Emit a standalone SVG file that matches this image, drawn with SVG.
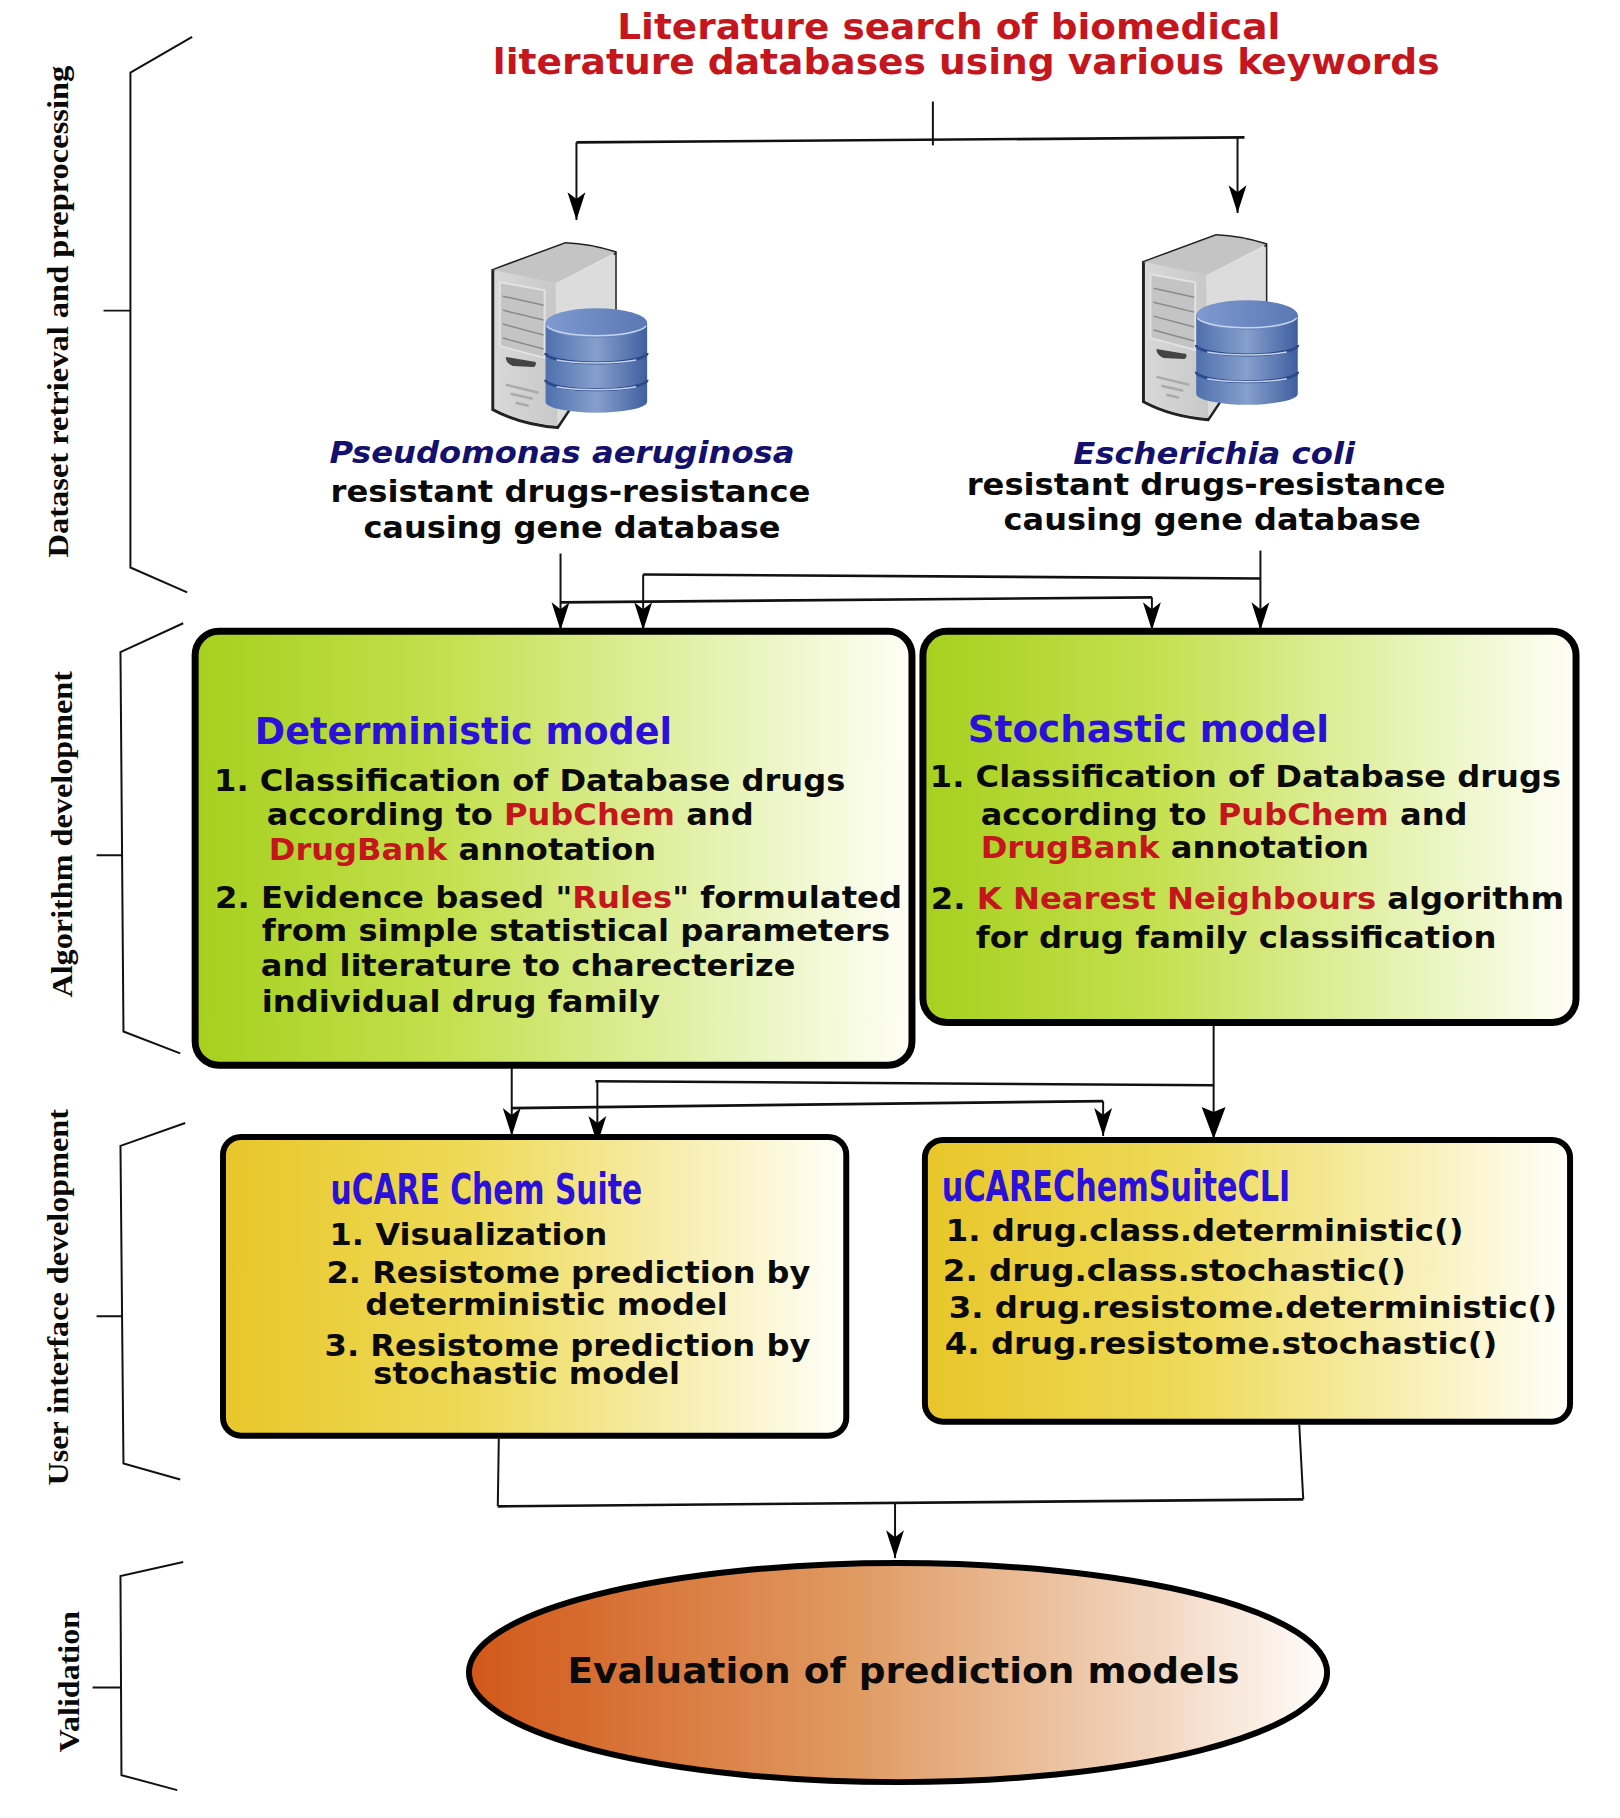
<svg xmlns="http://www.w3.org/2000/svg" width="1620" height="1818" viewBox="0 0 1620 1818">
<style>
text{font-family:"DejaVu Sans","Liberation Sans",sans-serif;font-weight:700;font-size:31px;fill:#0a0a0a}
.side{font-family:"Liberation Serif",serif;font-size:29px}
.red{fill:#c4161c}
.navy{fill:#14106e;font-style:italic;font-size:31px}
.blue{fill:#2a10d8;font-size:38px}
.ui{fill:#2a10d8;font-size:43px}
.brace{fill:none;stroke:#111;stroke-width:2}
.con{fill:none;stroke:#111;stroke-width:2}
.hz{fill:none;stroke:#111;stroke-width:2.6}
.arr{marker-end:url(#a)}
.big{marker-end:url(#b)}
.box{stroke:#000;stroke-width:7}
.box2{stroke:#000;stroke-width:6}
</style>
<defs>
<marker id="a" markerUnits="userSpaceOnUse" markerWidth="30" markerHeight="20" refX="28" refY="10" orient="auto"><path d="M28 10L0 1L7 10L0 19Z" fill="#000"/></marker>
<marker id="b" markerUnits="userSpaceOnUse" markerWidth="34" markerHeight="28" refX="32" refY="14" orient="auto"><path d="M32 14L0 2L5 14L0 26Z" fill="#000"/></marker>
<linearGradient id="g"><stop offset="0" stop-color="#a6d01e"/><stop offset=".35" stop-color="#c4e04e"/><stop offset=".75" stop-color="#e8f3b8"/><stop offset="1" stop-color="#fefef6"/></linearGradient>
<linearGradient id="y"><stop offset="0" stop-color="#e8c62a"/><stop offset=".4" stop-color="#eeda58"/><stop offset=".75" stop-color="#f8efb4"/><stop offset="1" stop-color="#fffffa"/></linearGradient>
<linearGradient id="o"><stop offset="0" stop-color="#d2581a"/><stop offset=".45" stop-color="#e09a62"/><stop offset=".8" stop-color="#f2d6c0"/><stop offset="1" stop-color="#fffdfb"/></linearGradient>
<linearGradient id="cyl"><stop offset="0" stop-color="#4f70ae"/><stop offset=".5" stop-color="#86a0cc"/><stop offset="1" stop-color="#3f5f9f"/></linearGradient>
<linearGradient id="cyt"><stop offset="0" stop-color="#7f9ad0"/><stop offset="1" stop-color="#5a78b4"/></linearGradient>
<linearGradient id="fr" x1="0" x2="1"><stop offset="0" stop-color="#d8d8d8"/><stop offset="1" stop-color="#c8c8c8"/></linearGradient>
<g id="srv">
<path d="M492 270L565 243Q590 244 615 252L615 340L557 428Q520 425 492 410Z" fill="#e0e0e0" stroke="#222" stroke-width="3"/>
<path d="M492 270L565 243Q590 244 615 252L555 283Z" fill="#c4c4c4"/>
<path d="M555 283L615 254L615 340L557 426Z" fill="#dcdcdc"/>
<path d="M494 270L555 283L557 426Q520 423 494 409Z" fill="url(#fr)"/>
<path d="M499 282L544 290L544 358L499 346Z" fill="#c4c4c4" stroke="#e2e2e2" stroke-width="2"/>
<path d="M502 296L543 305M502 310L543 320M502 324L543 335M502 338L543 349" stroke="#8a8a8a" stroke-width="1.5" fill="none"/>
<path d="M505 357L535 362Q536 366 533 367L512 366Q505 363 505 357Z" fill="#444"/>
<path d="M505 385L538 393M510 394L532 399M515 403L528 406" stroke="#aaa" stroke-width="2.5" fill="none"/>
<path d="M545 323L545 402A51 11 0 0 0 647 402L647 323Z" fill="url(#cyl)"/>
<ellipse cx="596" cy="323" rx="51" ry="15" fill="url(#cyt)"/>
<path d="M546 326A51 12 0 0 0 646 326" fill="none" stroke="#c8d4ec" stroke-width="1.5"/>
<path d="M545 353A51 10 0 0 0 647 353M545 380A51 10 0 0 0 647 380" fill="none" stroke="#2c4a8c" stroke-width="3"/>
<path d="M556 360A51 8 0 0 0 636 360M556 387A51 8 0 0 0 636 387" fill="none" stroke="#c8d4ec" stroke-width="1.5"/>
</g>
</defs>
<rect width="1620" height="1818" fill="#fff"/>
<g transform="scale(.9956)">
<g id="connectors">
<path class="con" d="M937 102V146"/>
<path class="hz" d="M579 143L1250 138"/>
<path class="con arr" d="M579 143V221"/>
<path class="con arr" d="M1243 138V214"/>
<path class="con arr" d="M563 556V633"/>
<path class="con arr" d="M1266 553V633"/>
<path class="hz" d="M646 577L1266 581"/>
<path class="con arr" d="M646 577V633"/>
<path class="hz" d="M563 605L1157 600"/>
<path class="con arr" d="M1157 600V633"/>
<path class="con arr" d="M514 1070V1141"/>
<path class="hz" d="M514 1113L1108 1106"/>
<path class="con arr" d="M1108 1106V1141"/>
<path class="hz" d="M598 1086L1219 1090"/>
<path class="con arr" d="M600 1086V1149"/>
<path class="con big" d="M1219 1030V1144"/>
<path class="con" d="M501 1445L500 1513"/>
<path class="hz" d="M500 1513L1309 1506"/>
<path class="con" d="M1309 1506L1305 1431"/>
<path class="con arr" d="M899 1509V1565"/>
</g>

<g id="braces">
<path class="brace" d="M193 37L131 73V570L188 595M104 312H131"/>
<path class="brace" d="M184 626L121 655L124 1036L181 1058M97 859H123"/>
<path class="brace" d="M186 1128L121 1151L124 1470L181 1486M97 1322H123"/>
<path class="brace" d="M184 1569L121 1583L122 1783L178 1798M93 1695H122"/>
</g>

<g id="stage-labels">
<text class="side" transform="translate(68 560) rotate(-90)" textLength="494" lengthAdjust="spacingAndGlyphs">Dataset retrieval and preprocessing</text>
<text class="side" transform="translate(72 1002) rotate(-90)" textLength="328" lengthAdjust="spacingAndGlyphs">Algorithm development</text>
<text class="side" transform="translate(68 1492) rotate(-90)" textLength="378" lengthAdjust="spacingAndGlyphs">User interface development</text>
<text class="side" transform="translate(79 1760) rotate(-90)" textLength="142" lengthAdjust="spacingAndGlyphs">Validation</text>
</g>

<g id="search">
<text class="red" x="620" y="39" style="font-size:36px" textLength="666" lengthAdjust="spacingAndGlyphs">Literature search of biomedical</text>
<text class="red" x="495" y="74" style="font-size:36px" textLength="951" lengthAdjust="spacingAndGlyphs">literature databases using various keywords</text>
</g>

<g id="db-pseudomonas">
<use href="#srv" x="3" y="1.5"/>
<text class="navy" x="331" y="465" textLength="467" lengthAdjust="spacingAndGlyphs">Pseudomonas aeruginosa</text>
<text x="332" y="504" textLength="482" lengthAdjust="spacingAndGlyphs">resistant drugs-resistance</text>
<text x="365" y="540" textLength="419" lengthAdjust="spacingAndGlyphs">causing gene database</text>
</g>

<g id="db-ecoli">
<use href="#srv" x="656.5" y="-6.5"/>
<text class="navy" x="1078" y="466" textLength="283" lengthAdjust="spacingAndGlyphs">Escherichia coli</text>
<text x="971" y="497" textLength="481" lengthAdjust="spacingAndGlyphs">resistant drugs-resistance</text>
<text x="1008" y="532" textLength="419" lengthAdjust="spacingAndGlyphs">causing gene database</text>
</g>

<g id="deterministic">
<rect class="box" x="196" y="634" width="720" height="436" rx="24" fill="url(#g)"/>
<text class="blue" x="256" y="747" textLength="419" lengthAdjust="spacingAndGlyphs">Deterministic model</text>
<text x="215" y="794" textLength="634" lengthAdjust="spacingAndGlyphs">1. Classification of Database drugs</text>
<text x="268" y="829" textLength="489" lengthAdjust="spacingAndGlyphs">according to <tspan class="red">PubChem</tspan> and</text>
<text x="270" y="864" textLength="389" lengthAdjust="spacingAndGlyphs"><tspan class="red">DrugBank</tspan> annotation</text>
<text x="216" y="912" textLength="690" lengthAdjust="spacingAndGlyphs">2. Evidence based "<tspan class="red">Rules</tspan>" formulated</text>
<text x="263" y="945" textLength="631" lengthAdjust="spacingAndGlyphs">from simple statistical parameters</text>
<text x="262" y="980" textLength="537" lengthAdjust="spacingAndGlyphs">and literature to charecterize</text>
<text x="263" y="1016" textLength="400" lengthAdjust="spacingAndGlyphs">individual drug family</text>
</g>

<g id="stochastic">
<rect class="box" x="927" y="634" width="656" height="393" rx="24" fill="url(#g)"/>
<text class="blue" x="972" y="745" textLength="363" lengthAdjust="spacingAndGlyphs">Stochastic model</text>
<text x="934" y="790" textLength="634" lengthAdjust="spacingAndGlyphs">1. Classification of Database drugs</text>
<text x="985" y="829" textLength="489" lengthAdjust="spacingAndGlyphs">according to <tspan class="red">PubChem</tspan> and</text>
<text x="985" y="862" textLength="390" lengthAdjust="spacingAndGlyphs"><tspan class="red">DrugBank</tspan> annotation</text>
<text x="935" y="913" textLength="636" lengthAdjust="spacingAndGlyphs">2. <tspan class="red">K Nearest Neighbours</tspan> algorithm</text>
<text x="980" y="952" textLength="523" lengthAdjust="spacingAndGlyphs">for drug family classification</text>
</g>

<g id="ucare-chem-suite">
<rect class="box2" x="224" y="1142" width="626" height="300" rx="18" fill="url(#y)"/>
<text class="ui" x="332" y="1209" textLength="313" lengthAdjust="spacingAndGlyphs">uCARE Chem Suite</text>
<text x="331" y="1250" textLength="279" lengthAdjust="spacingAndGlyphs">1. Visualization</text>
<text x="328" y="1289" textLength="486" lengthAdjust="spacingAndGlyphs">2. Resistome prediction by</text>
<text x="367" y="1321" textLength="364" lengthAdjust="spacingAndGlyphs">deterministic model</text>
<text x="326" y="1362" textLength="488" lengthAdjust="spacingAndGlyphs">3. Resistome prediction by</text>
<text x="375" y="1390" textLength="308" lengthAdjust="spacingAndGlyphs">stochastic model</text>
</g>

<g id="ucare-cli">
<rect class="box2" x="929" y="1145" width="648" height="283" rx="18" fill="url(#y)"/>
<text class="ui" x="946" y="1206" textLength="350" lengthAdjust="spacingAndGlyphs">uCAREChemSuiteCLI</text>
<text x="950" y="1246" textLength="520" lengthAdjust="spacingAndGlyphs">1. drug.class.deterministic()</text>
<text x="947" y="1287" textLength="465" lengthAdjust="spacingAndGlyphs">2. drug.class.stochastic()</text>
<text x="953" y="1324" textLength="611" lengthAdjust="spacingAndGlyphs">3. drug.resistome.deterministic()</text>
<text x="949" y="1360" textLength="555" lengthAdjust="spacingAndGlyphs">4. drug.resistome.stochastic()</text>
</g>

<g id="evaluation">
<ellipse cx="902" cy="1680" rx="431" ry="110" fill="url(#o)" stroke="#000" stroke-width="6"/>
<text x="570" y="1690" style="font-size:36px" textLength="675" lengthAdjust="spacingAndGlyphs">Evaluation of prediction models</text>
</g>
</g>
</svg>
